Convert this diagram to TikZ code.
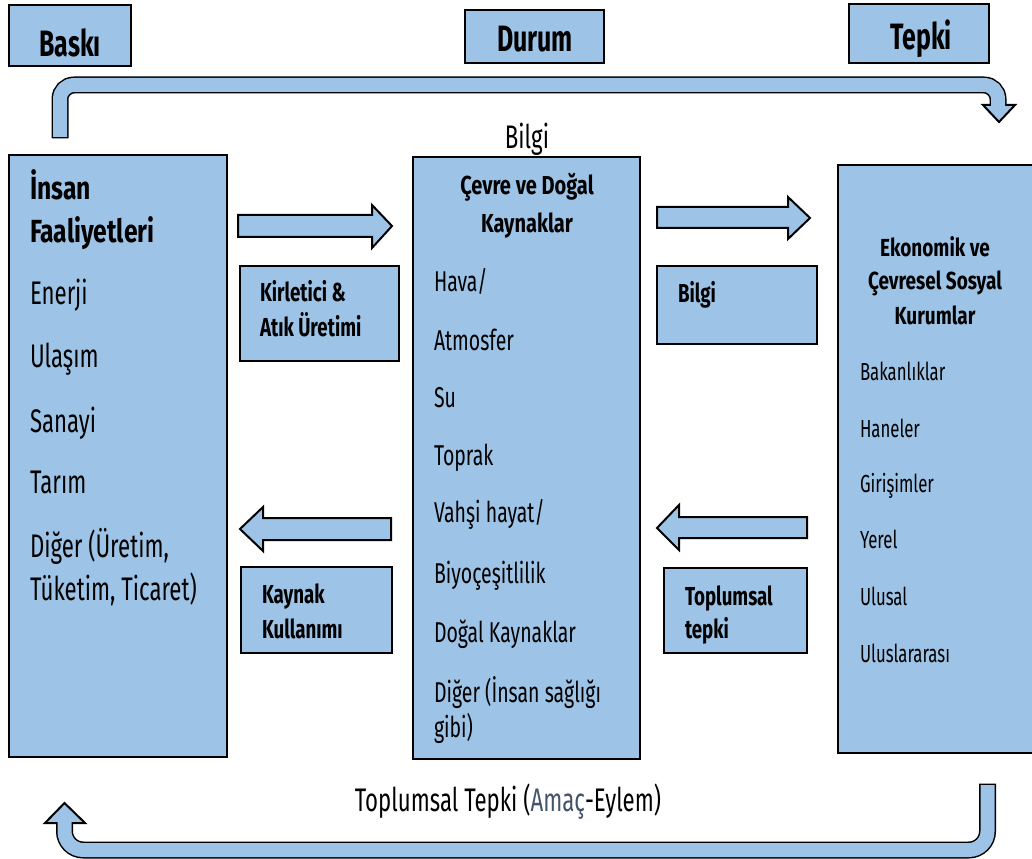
\documentclass[tikz,border=0pt]{standalone}
\usepackage{fontspec}
\setmainfont{Fira Sans}[FakeStretch=0.68]
\newfontfamily\titlefont{Fira Sans}[FakeStretch=0.77]
\newfontfamily\smallfont{Fira Sans}[FakeStretch=0.72]
\definecolor{boxblue}{RGB}{157,195,230}
\definecolor{amac}{RGB}{68,84,106}
\tikzset{
  box/.style={draw=black, fill=boxblue, line width=1.5pt, inner sep=0pt, outer sep=0pt, anchor=center},
  blockarrow/.style={draw=black, fill=boxblue, line width=1.5pt, line join=miter},
  lbl/.style={inner sep=0pt, outer sep=0pt, anchor=base west},
  ctr/.style={inner sep=0pt, outer sep=0pt, anchor=base},
  toplbl/.style={ctr, font=\bfseries\fontsize{27.5}{30}\selectfont},
  bigreg/.style={lbl, font=\fontsize{24.5}{28}\selectfont},
  bigbold/.style={lbl, font=\titlefont\bfseries\fontsize{24}{28}\selectfont},
  midreg/.style={lbl, font=\fontsize{21.5}{25}\selectfont},
  midbold/.style={ctr, font=\titlefont\bfseries\fontsize{19.5}{23}\selectfont},
  rreg/.style={lbl, font=\fontsize{18.5}{22}\selectfont},
  rbold/.style={ctr, font=\titlefont\bfseries\fontsize{18.5}{22}\selectfont},
  smallbold/.style={lbl, font=\smallfont\bfseries\fontsize{19.5}{23}\selectfont},
  bandblack/.style={draw=black, line width=12.75pt},
  bandblue/.style={draw=boxblue, line width=10.5pt},
}
\begin{document}
\begin{tikzpicture}[x=0.75pt, y=-0.75pt]
\useasboundingbox (0,0) rectangle (1032,859);
\clip (0,0) rectangle (1032,859);

% top labels
\node[box, minimum width=122*0.75pt, minimum height=61*0.75pt] (baski) at (70,35.5) {};
\node[box, minimum width=139*0.75pt, minimum height=53*0.75pt] (durum) at (534.5,36.5) {};
\node[box, minimum width=140*0.75pt, minimum height=59*0.75pt] (tepki) at (919,33.5) {};
\node[toplbl] (tbaski) at (70,57) {Baskı};
\node[toplbl] (tdurum) at (535,52) {Durum};
\node[toplbl] (ttepki) at (921,50) {Tepki};

% top bent arrow
\coordinate (ta0) at (60,138.5);
\coordinate (ta1) at (60,137);
\coordinate (tc1) at (60,85);
\coordinate (tc2) at (998,85);
\coordinate (taE) at (998,105);
\coordinate (taE2) at (998,108);
\draw[bandblack, rounded corners=10.5pt] (ta0) -- (tc1) -- (tc2) -- (taE);
\draw[blockarrow] (983,105) coordinate (th1) -- (1015,105) coordinate (th2) -- (999,122) coordinate (th3) -- cycle;
\draw[bandblue, rounded corners=10.5pt] (ta1) -- (tc1) -- (tc2) -- (taE2);

\node[ctr, font=\fontsize{24.5}{28}\selectfont] (bilgitop) at (527,149) {Bilgi};

% main boxes
\node[box, minimum width=218*0.75pt, minimum height=602*0.75pt] (insan) at (117.5,456) {};
\node[box, minimum width=227*0.75pt, minimum height=602*0.75pt] (cevre) at (526.5,458) {};
\node[box, minimum width=204*0.75pt, minimum height=588*0.75pt] (kurum) at (940,459) {};

% left box texts
\node[bigbold] (l1) at (30,200) {İnsan};
\node[bigbold] (l2) at (30,243) {Faaliyetleri};
\node[bigreg] (l3) at (30,305) {Enerji};
\node[bigreg] (l4) at (30,368) {Ulaşım};
\node[bigreg] (l5) at (30,432) {Sanayi};
\node[bigreg] (l6) at (30,493) {Tarım};
\node[bigreg] (l7) at (30,557) {Diğer (Üretim,};
\node[bigreg] (l8) at (30,600) {Tüketim, Ticaret)};

% middle box texts
\node[midbold] (m1) at (527,195) {Çevre ve Doğal};
\node[midbold] (m2) at (527,233) {Kaynaklar};
\node[midreg] (m3) at (434,292) {Hava/};
\node[midreg] (m4) at (434,350) {Atmosfer};
\node[midreg] (m5) at (434,407) {Su};
\node[midreg] (m6) at (434,465) {Toprak};
\node[midreg] (m7) at (434,522) {Vahşi hayat/};
\node[midreg] (m8) at (434,583) {Biyoçeşitlilik};
\node[midreg] (m9) at (434,642) {Doğal Kaynaklar};
\node[midreg] (m10) at (434,702) {Diğer (İnsan sağlığı};
\node[midreg] (m11) at (434,737) {gibi)};

% right box texts
\node[rbold] (r1) at (935,257) {Ekonomik ve};
\node[rbold] (r2) at (935,290) {Çevresel Sosyal};
\node[rbold] (r3) at (935,325) {Kurumlar};
\node[rreg] (r4) at (860,380) {Bakanlıklar};
\node[rreg] (r5) at (860,437) {Haneler};
\node[rreg] (r6) at (860,492) {Girişimler};
\node[rreg] (r7) at (860,548) {Yerel};
\node[rreg] (r8) at (860,605) {Ulusal};
\node[rreg] (r9) at (860,662) {Uluslararası};

% small boxes
\node[box, minimum width=159*0.75pt, minimum height=95*0.75pt] (kirl) at (319.5,313.5) {};
\node[box, minimum width=160*0.75pt, minimum height=78*0.75pt] (bilgibox) at (737,305) {};
\node[box, minimum width=151*0.75pt, minimum height=86*0.75pt] (kayn) at (316.5,610) {};
\node[box, minimum width=143*0.75pt, minimum height=85*0.75pt] (topl) at (735.5,610.5) {};
\node[smallbold] (k1) at (260,302) {Kirletici \&};
\node[smallbold] (k2) at (260,337) {Atık Üretimi};
\node[smallbold] (b1) at (678,303) {Bilgi};
\node[smallbold] (y1) at (262,603) {Kaynak};
\node[smallbold] (y2) at (262,638) {Kullanımı};
\node[smallbold] (t1) at (685,605) {Toplumsal};
\node[smallbold] (t2) at (685,638) {tepki};

% block arrows
\draw[blockarrow] (238,215) -- (372,215) -- (372,205) -- (392,226) -- (372,248) -- (372,237) -- (238,237) -- cycle;
\draw[blockarrow] (657,207) -- (788,207) -- (788,197) -- (810,218) -- (788,239) -- (788,228) -- (657,228) -- cycle;
\draw[blockarrow] (391,518) -- (263,518) -- (263,507) -- (240,529) -- (263,551) -- (263,540) -- (391,540) -- cycle;
\draw[blockarrow] (807,517) -- (679,517) -- (679,505) -- (657,528) -- (679,550) -- (679,538) -- (807,538) -- cycle;

% bottom text
\node[ctr, font=\fontsize{24.5}{28}\selectfont] (bottomlbl) at (508,811) {Toplumsal Tepki (\textcolor{amac}{Amaç}-Eylem)};

% bottom bent arrow
\coordinate (ba0) at (987.5,783.5);
\coordinate (ba1) at (987.5,785);
\coordinate (bc1) at (987.5,850);
\coordinate (bc2) at (64.5,850);
\coordinate (baE) at (64.5,823);
\coordinate (baE2) at (64.5,820);
\draw[bandblack, rounded corners=14pt] (ba0) -- (bc1) -- (bc2) -- (baE);
\draw[blockarrow] (45,823) -- (85,823) -- (64.5,803) -- cycle;
\draw[bandblue, rounded corners=14pt] (ba1) -- (bc1) -- (bc2) -- (baE2);
\end{tikzpicture}
\end{document}
